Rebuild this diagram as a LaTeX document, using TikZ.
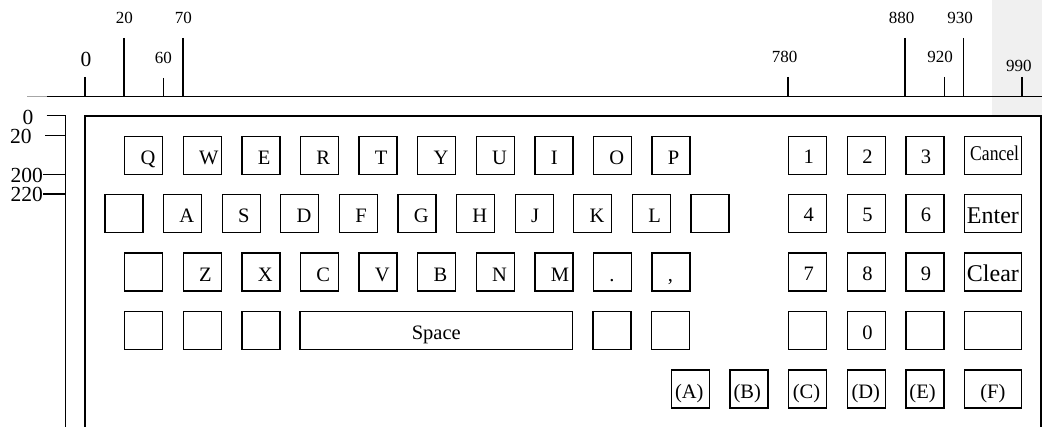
\documentclass[tikz,border=0pt]{standalone}
\usepackage{fontspec}
\setmainfont{Liberation Serif}
\usepackage{graphicx}
\newcommand\kbk[7]{% name x y w xoff yoff text
  \node[kbox,minimum width=#4pt] (#1) at ({#2+0.65},{#3+0.65}) {};
  \node[klab] (#1t) at ([xshift=#5pt,yshift=-#6pt]#1.north west) {#7};}
\newcommand\kbb[4]{% name x y w (blank key)
  \node[kbox,minimum width=#4pt] (#1) at ({#2+0.65},{#3+0.65}) {};}
\begin{document}
\begin{tikzpicture}[x=1pt,y=-1pt,
  kbox/.style={draw, line width=1.3pt, minimum height=38pt, inner sep=0pt, outer sep=0pt, anchor=north west},
  klab/.style={inner sep=0pt, outer sep=0pt, anchor=base west, font=\fontsize{20.5}{24}\selectfont},
  rlab/.style={inner sep=0pt, outer sep=0pt, font=\fontsize{17}{20}\selectfont},
  llab/.style={inner sep=0pt, outer sep=0pt, font=\fontsize{21.5}{24}\selectfont},
  rulel/.style={line width=1.3pt},
  frame/.style={line width=1.6pt},
]
\useasboundingbox (0,0) rectangle (1042,427);
% grey background corner
\fill[black!6] (992.3,0) rectangle (1042,116);
% top ruler
\draw[black!35, line width=1pt] (27,96.3) -- (47,96.3);
\draw[rulel] (47,96.3) -- (1042,96.3);
\foreach \x/\t in {85/77,124/38,163.3/78,183/38,788/77,905/38,944.3/77,963.7/38,1022/77}
  \draw[rulel] (\x,\t) -- (\x,96.3);
\node[llab] (t0) at (86,59.3) {0};
\node[rlab] (t20) at (124.3,17.5) {20};
\node[rlab] (t60) at (163.3,57.5) {60};
\node[rlab] (t70) at (183.3,17.5) {70};
\node[rlab] (t780) at (784.7,56.7) {780};
\node[rlab] (t880) at (901.7,17.5) {880};
\node[rlab] (t920) at (940,56.7) {920};
\node[rlab] (t930) at (960,17.5) {930};
\node[rlab] (t990) at (1018.8,65.8) {990};
% left ruler
\draw[rulel] (46.7,115.7) -- (65.7,115.7) -- (65.7,427);
\draw[rulel] (45,135.5) -- (65.7,135.5);
\draw[rulel] (43.3,174.3) -- (65.7,174.3);
\draw[rulel] (43.3,194) -- (65.7,194);
\node[llab] (l0) at (28,117.5) {0};
\node[llab] (l20) at (20.8,136.7) {20};
\node[llab] (l200) at (26.7,175.5) {200};
\node[llab] (l220) at (26.7,194.5) {220};
% keyboard frame
\draw[frame] (85,427) -- (85,116) -- (1041,116) -- (1041,427);
% row 1
\foreach \t [count=\i from 0] in {Q,W,E,R,T,Y,U,I,O,P}
  {\kbk{ra\i}{124+58.6*\i}{135.7}{38}{15.9}{27.7}{\t}}
% row 2
\kbb{rb0}{104.3}{194}{38}
\foreach \t [count=\i from 1] in {A,S,D,F,G,H,J,K,L}
  {\kbk{rb\i}{104.3+58.6*\i}{194}{38}{15.9}{27.7}{\t}}
\kbb{rb10}{690.3}{194}{38}
% row 3
\kbb{rc0}{124}{252.5}{38}
\foreach \t [count=\i from 1] in {Z,X,C,V,B,N,M,.,{,}}
  {\kbk{rc\i}{124+58.6*\i}{252.5}{38}{15.9}{28.2}{\t}}
% row 4
\kbb{rd0}{124}{310.8}{38}
\kbb{rd1}{182.6}{310.8}{38}
\kbb{rd2}{241.2}{310.8}{38}
\node[kbox,minimum width=272.7pt] (space) at (299.95,311.45) {};
\node[klab,anchor=base] (spacet) at ([yshift=-28.2pt]space.north) {Space};
\kbb{rd4}{592.4}{310.8}{38}
\kbb{rd5}{651}{310.8}{38}
% numeric pad
\kbk{n1}{788}{135.7}{38}{14.9}{27.2}{1}
\kbk{n2}{846.7}{135.7}{38}{14.9}{27.2}{2}
\kbk{n3}{905.3}{135.7}{38}{14.9}{27.2}{3}
\kbk{ncancel}{963.5}{135.7}{57.5}{6}{24.2}{\scalebox{0.84}[1]{\fontsize{21}{24}\selectfont Cancel}}
\kbk{n4}{788}{194}{38}{14.9}{27.2}{4}
\kbk{n5}{846.7}{194}{38}{14.9}{27.2}{5}
\kbk{n6}{905.3}{194}{38}{14.9}{27.2}{6}
\kbk{nenter}{963.5}{194}{57.5}{2.8}{28.5}{\fontsize{24}{26}\selectfont Enter}
\kbk{n7}{788}{252.5}{38}{14.9}{27.7}{7}
\kbk{n8}{846.7}{252.5}{38}{14.9}{27.7}{8}
\kbk{n9}{905.3}{252.5}{38}{14.9}{27.7}{9}
\kbk{nclear}{963.5}{252.5}{57.5}{2.8}{28.5}{\fontsize{24}{26}\selectfont Clear}
\kbb{nb1}{788}{310.8}{38}
\kbk{n0}{846.7}{310.8}{38}{14.9}{27.7}{0}
\kbb{nb2}{905.3}{310.8}{38}
\kbb{nb3}{963.5}{310.8}{57.5}
% bottom row
\kbk{fa}{670.7}{369.3}{38}{3.7}{28.5}{(A)}
\kbk{fb}{729.3}{369.3}{38}{3.7}{28.5}{(B)}
\kbk{fc}{788}{369.3}{38}{4.2}{28.5}{(C)}
\kbk{fd}{846.7}{369.3}{38}{4.2}{28.5}{(D)}
\kbk{fe}{905.3}{369.3}{38}{3.5}{28.5}{(E)}
\node[kbox,minimum width=57.5pt] (ff) at (964.15,369.95) {};
\node[klab,anchor=base] (fft) at ([yshift=-28.5pt]ff.north) {(F)};
\end{tikzpicture}
\end{document}
